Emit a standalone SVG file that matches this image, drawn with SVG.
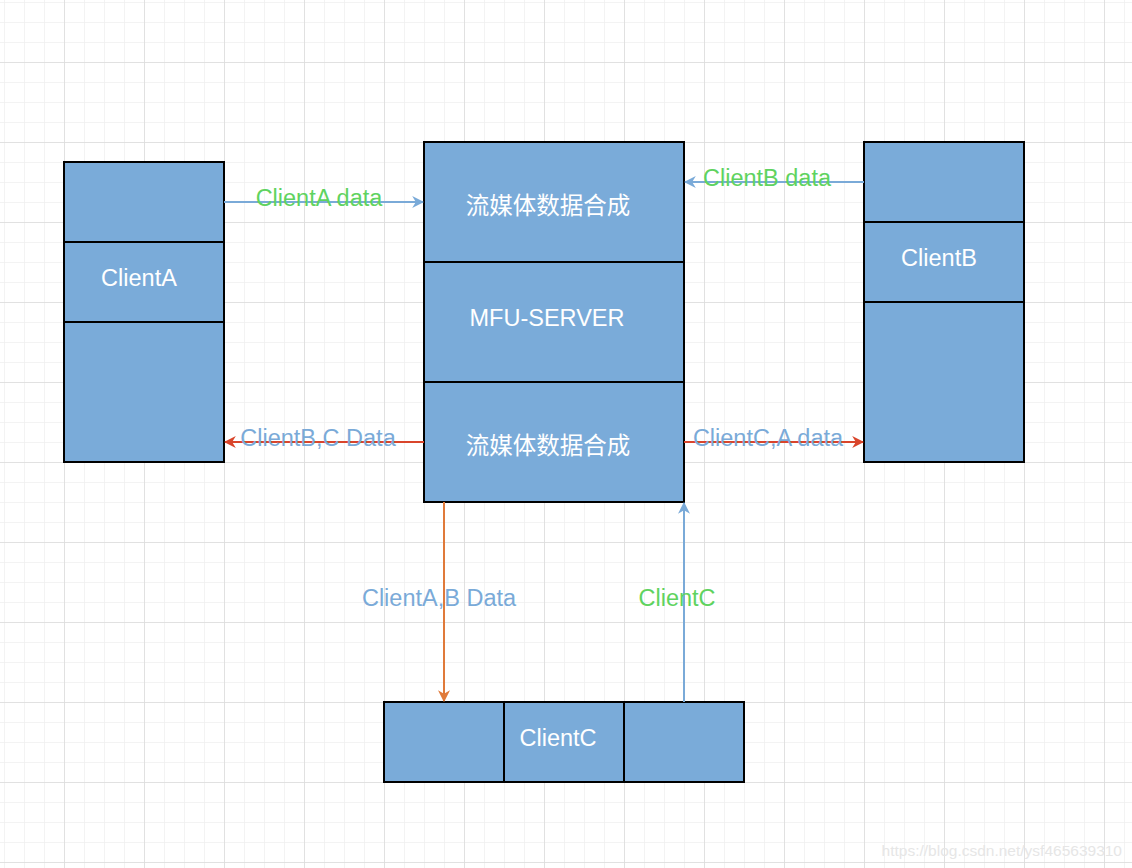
<svg xmlns="http://www.w3.org/2000/svg" width="1132" height="868" viewBox="0 0 1132 868">
<defs>
<pattern id="minor" x="4" y="2" width="20" height="20" patternUnits="userSpaceOnUse">
<path d="M0 0V20M0 0H20" fill="none" stroke="#efefef" stroke-width="1.5"/>
</pattern>
<pattern id="major" x="64" y="62" width="80" height="80" patternUnits="userSpaceOnUse">
<path d="M0 0V80M0 0H80" fill="none" stroke="#dcdcdc" stroke-width="1.5"/>
</pattern>
<marker id="ab" viewBox="0 0 10 10" refX="9" refY="5" markerWidth="12" markerHeight="12" markerUnits="userSpaceOnUse" orient="auto"><path d="M0 0L10 5L0 10L3 5Z" fill="#7aaad8"/></marker>
<marker id="ar" viewBox="0 0 10 10" refX="9" refY="5" markerWidth="12" markerHeight="12" markerUnits="userSpaceOnUse" orient="auto"><path d="M0 0L10 5L0 10L3 5Z" fill="#d9452b"/></marker>
<marker id="ao" viewBox="0 0 10 10" refX="9" refY="5" markerWidth="12" markerHeight="12" markerUnits="userSpaceOnUse" orient="auto"><path d="M0 0L10 5L0 10L3 5Z" fill="#e07a3a"/></marker>
</defs>
<style>
.box{fill:#7aabd9;stroke:#000;stroke-width:2}
.w{fill:#fff;font-family:"Liberation Sans","Noto Sans CJK SC",sans-serif;font-size:23.5px;text-anchor:middle}
.lab{font-family:"Liberation Sans",sans-serif;font-size:23.5px;text-anchor:middle}
.g{fill:#5fd35f}
.b{fill:#7aaad8}
</style>
<rect width="1132" height="868" fill="#fff"/>
<rect width="1132" height="868" fill="url(#minor)"/>
<rect width="1132" height="868" fill="url(#major)"/>
<g id="clientA">
<rect class="box" x="64" y="162" width="160" height="80"/>
<rect class="box" x="64" y="242" width="160" height="80"/>
<rect class="box" x="64" y="322" width="160" height="140"/>
<text class="w" x="139" y="286">ClientA</text>
</g>
<g id="server">
<rect class="box" x="424" y="142" width="260" height="120"/>
<rect class="box" x="424" y="262" width="260" height="120"/>
<rect class="box" x="424" y="382" width="260" height="120"/>
<text class="w" x="548" y="214">流媒体数据合成</text>
<text class="w" x="547" y="326">MFU-SERVER</text>
<text class="w" x="548" y="454">流媒体数据合成</text>
</g>
<g id="clientB">
<rect class="box" x="864" y="142" width="160" height="80"/>
<rect class="box" x="864" y="222" width="160" height="80"/>
<rect class="box" x="864" y="302" width="160" height="160"/>
<text class="w" x="939" y="266">ClientB</text>
</g>
<g id="clientC">
<rect class="box" x="384" y="702" width="120" height="80"/>
<rect class="box" x="504" y="702" width="120" height="80"/>
<rect class="box" x="624" y="702" width="120" height="80"/>
<text class="w" x="558" y="746">ClientC</text>
</g>
<g id="connectors" fill="none" stroke-width="2">
<path d="M224 202H423" stroke="#7aaad8" marker-end="url(#ab)"/>
<path d="M864 182H685" stroke="#7aaad8" marker-end="url(#ab)"/>
<path d="M424 442H225" stroke="#d9452b" marker-end="url(#ar)"/>
<path d="M684 442H863" stroke="#d9452b" marker-end="url(#ar)"/>
<path d="M444 502V701" stroke="#e07a3a" marker-end="url(#ao)"/>
<path d="M684 702V503" stroke="#7aaad8" marker-end="url(#ab)"/>
</g>
<g id="labels">
<text class="lab g" x="319" y="206">ClientA data</text>
<text class="lab g" x="767" y="186">ClientB data</text>
<text class="lab b" x="318" y="446">ClientB,C Data</text>
<text class="lab b" x="768" y="446">ClientC,A data</text>
<text class="lab b" x="439" y="606">ClientA,B Data</text>
<text class="lab g" x="677" y="606">ClientC</text>
</g>
<text x="1122" y="856" font-family="Liberation Sans,sans-serif" font-size="15.5" fill="#e6e6e6" text-anchor="end">https://blog.csdn.net/ysf465639310</text>
</svg>
